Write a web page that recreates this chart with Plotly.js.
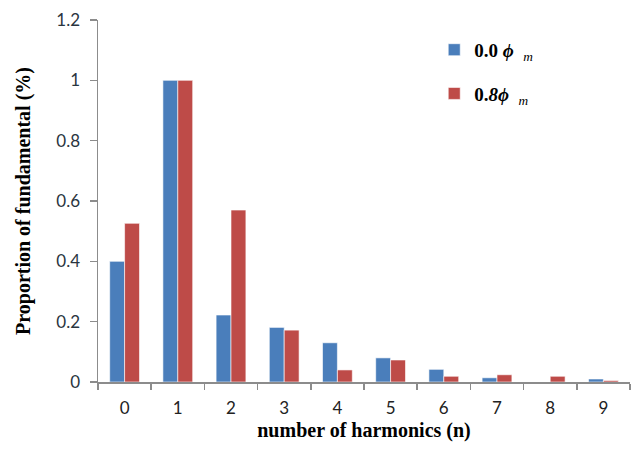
<!DOCTYPE html>
<html><head><meta charset="utf-8">
<script src="https://cdn.plot.ly/plotly-3.0.1.min.js"></script>
<style>body{margin:0;padding:0;background:#fff}#chart{width:638px;height:449px}</style>
</head><body><div id="chart"></div>
<script>
const harmonics = ['0','1','2','3','4','5','6','7','8','9'];
const phi00 = [0.40, 1.00, 0.222, 0.181, 0.130, 0.080, 0.042, 0.014, 0.0, 0.010];
const phi08 = [0.526, 1.00, 0.570, 0.172, 0.040, 0.073, 0.019, 0.024, 0.019, 0.005];
const seriesNames = ['<b>0.0 <i>ϕ</i></b>  <sub><i>m</i></sub>', '<b>0.<i>8</i><i>ϕ</i></b>  <sub><i>m</i></sub>'];

const traces = [
  {type:'bar', x:harmonics, y:phi00, name:seriesNames[0], legendgroup:'a',
   marker:{color:'#4a7ebb', line:{color:'#ffffff', width:0.6}}},
  {type:'bar', x:harmonics, y:phi08, name:seriesNames[1], legendgroup:'b',
   marker:{color:'#be4b48', line:{color:'#ffffff', width:0.6}}}
];
const layout = {
  width:638, height:449,
  margin:{l:98, r:8, t:20, b:67},
  paper_bgcolor:'#fff', plot_bgcolor:'#fff',
  barmode:'group', bargap:0.44, bargroupgap:0,
  showlegend:true,
  legend:{x:0.632, y:0.97, xanchor:'left', yanchor:'top', traceorder:'grouped', tracegroupgap:16,
    font:{family:'Liberation Serif, Times New Roman, serif', size:19, color:'#000'}, bgcolor:'rgba(0,0,0,0)'},
  xaxis:{type:'category', showline:true, linecolor:'#8c8c8c', linewidth:1.5,
    ticks:'outside', tickson:'boundaries', ticklen:6, tickcolor:'#8c8c8c', tickwidth:1.5,
    ticklabelstandoff:10,
    showgrid:false, zeroline:false,
    tickfont:{family:'Lato, Open Sans, sans-serif', size:17, color:'#222'},
    title:{text:'<b>number of harmonics (n)</b>', standoff:6,
      font:{family:'Liberation Serif, Times New Roman, serif', size:20, color:'#000'}}},
  yaxis:{range:[0,1.2], dtick:0.2, showline:true, linecolor:'#8c8c8c', linewidth:1.5,
    ticks:'outside', ticklen:7, tickcolor:'#8c8c8c', tickwidth:1.5,
    ticklabelstandoff:6,
    showgrid:false, zeroline:false,
    tickfont:{family:'Lato, Open Sans, sans-serif', size:17, color:'#2a3540'},
    title:{text:'<b>Proportion of fundamental (%)</b>', standoff:20,
      font:{family:'Liberation Serif, Times New Roman, serif', size:20, color:'#000'}}}
};
Plotly.newPlot('chart', traces, layout, {displayModeBar:false, staticPlot:true});
</script></body></html>
